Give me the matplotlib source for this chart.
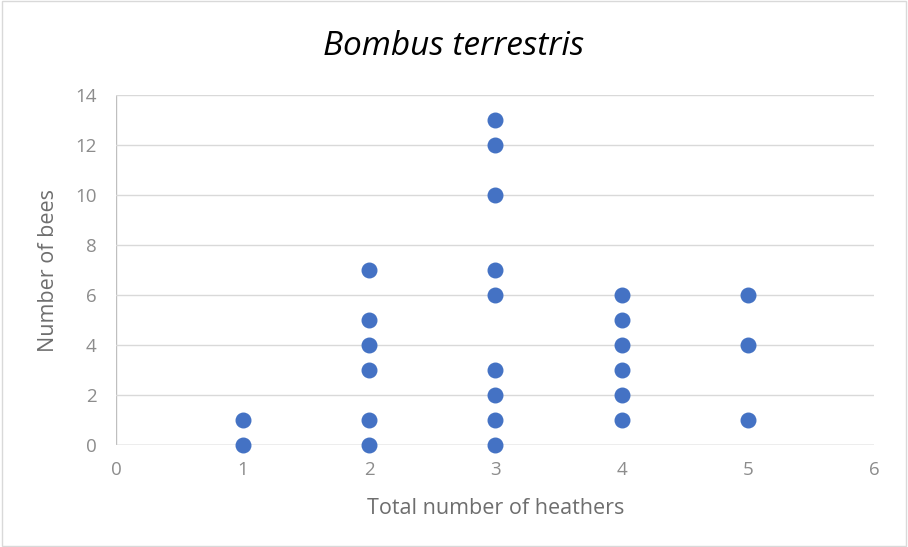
import matplotlib.pyplot as plt

plt.rcParams['font.family'] = ['Open Sans', 'DejaVu Sans']

heathers = [1, 1,
            2, 2, 2, 2, 2, 2,
            3, 3, 3, 3, 3, 3, 3, 3, 3,
            4, 4, 4, 4, 4, 4,
            5, 5, 5]
bees = [0, 1,
        0, 1, 3, 4, 5, 7,
        0, 1, 2, 3, 6, 7, 10, 12, 13,
        1, 2, 3, 4, 5, 6,
        1, 4, 6]

fig = plt.figure(figsize=(9.08, 5.47), dpi=100)
ax = fig.add_axes([0.128, 0.186, 0.835, 0.640])
ax.scatter(heathers, bees, s=110, color='#4472C4', zorder=3, clip_on=False)

ax.set_xlim(0, 6)
ax.set_ylim(0, 14)
ax.set_xticks(range(0, 7))
ax.set_yticks(range(0, 15, 2))
ax.grid(axis='y', color='#d9d9d9', linewidth=1)
for s in ax.spines.values():
    s.set_visible(False)
ax.axhline(0, color='#bfbfbf', linewidth=1, zorder=1)
ax.axvline(0, color='#bfbfbf', linewidth=1, zorder=1)
ax.tick_params(length=0, labelsize=13.5, colors='#8c8c8c')
ax.tick_params(axis='y', pad=14)
ax.tick_params(axis='x', pad=11)
ax.set_xlabel('Total number of heathers', fontsize=15.5, color='#6e6e6e', labelpad=14)
ax.set_ylabel('Number of bees', fontsize=15.5, color='#6e6e6e', labelpad=12)
fig.text(0.5, 0.915, 'Bombus terrestris', fontsize=24, style='italic',
         ha='center', va='center', color='black')

fig.patches.append(plt.Rectangle((0.002, 0.002), 0.996, 0.996, transform=fig.transFigure,
                                 fill=False, edgecolor='#d9d9d9', linewidth=1))
fig.savefig('out.png', dpi=100)
